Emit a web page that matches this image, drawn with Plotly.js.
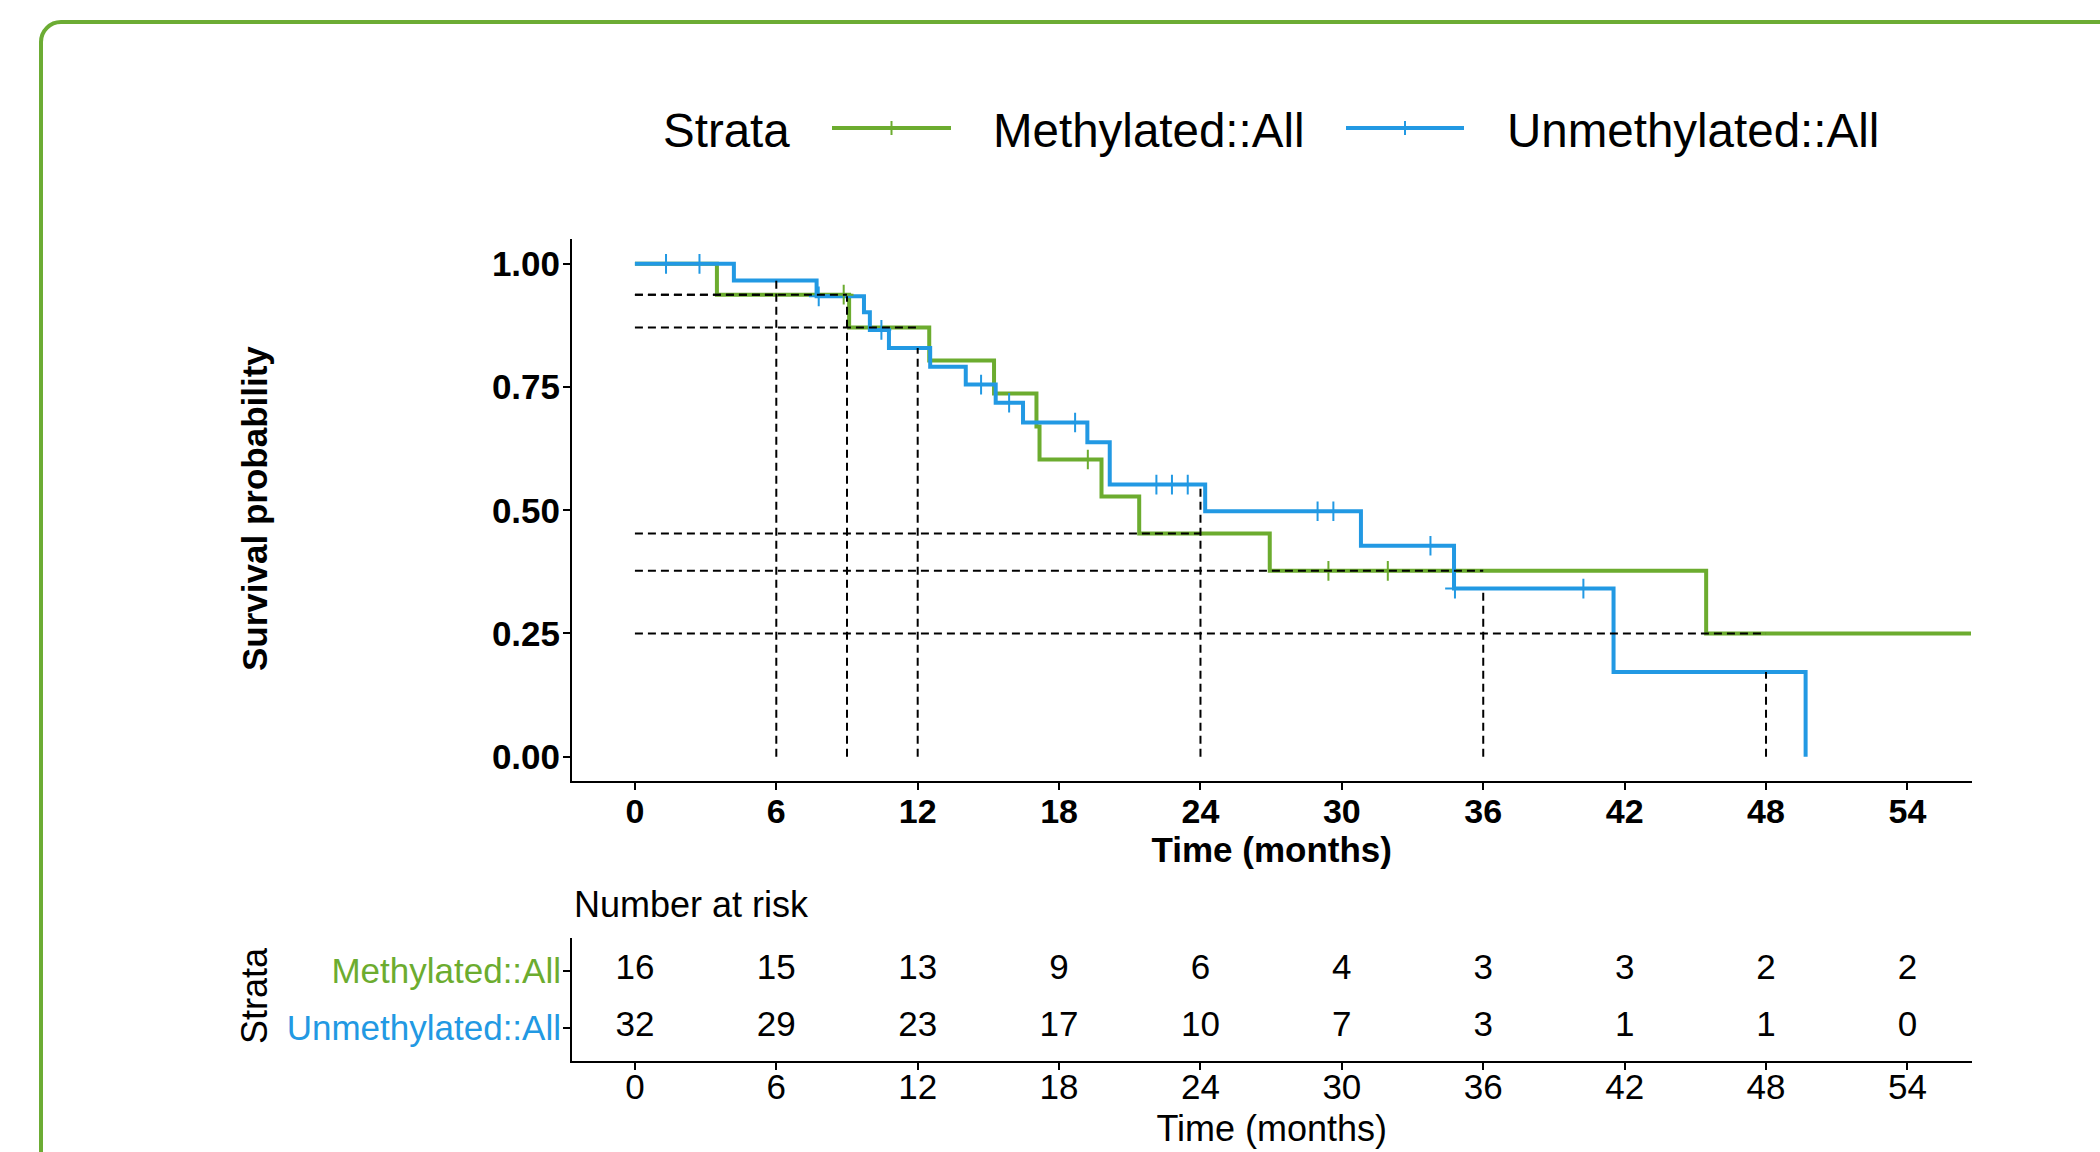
<!DOCTYPE html>
<html>
<head>
<meta charset="utf-8">
<script src="https://cdn.plot.ly/plotly-3.0.1.min.js"></script>
<style>
  html, body { margin: 0; padding: 0; background: #ffffff; }
  #wrap { position: relative; width: 2100px; height: 1152px; overflow: hidden; }
  #chart { position: absolute; left: 0; top: 0; width: 2100px; height: 1152px; }
  #frame { position: absolute; left: 39px; top: 20px; width: 2120px; height: 1220px;
           border: 4px solid #6cac34; border-radius: 22px; box-sizing: border-box; pointer-events: none; }
</style>
</head>
<body>
<div id="wrap">
  <div id="chart"></div>
  <div id="frame"></div>
</div>
<script>
// ---------------- data ----------------
const strataNames = ["Methylated::All", "Unmethylated::All"];
const strataColors = ["#6cac2f", "#2299e3"];

// Kaplan-Meier steps (time in months, survival after the step)
const methTime = [0, 3.48, 9.09, 12.49, 15.24, 17.04, 17.17, 19.8, 21.4, 26.94, 45.46, 56.7];
const methSurv = [1, 0.9375, 0.871, 0.804, 0.737, 0.670, 0.603, 0.528, 0.453, 0.377, 0.25, 0.25];
const methCensor = [8.86, 19.22, 29.43, 31.95];

const unTime = [0, 4.2, 7.71, 9.72, 9.97, 10.78, 12.53, 14.04, 15.31, 16.47, 19.2, 20.15, 24.2, 30.81, 34.76, 41.53, 49.68];
const unSurv = [1, 0.966, 0.934, 0.902, 0.866, 0.829, 0.791, 0.755, 0.718, 0.678, 0.638, 0.552, 0.498, 0.428, 0.341, 0.172, 0];
const unCensor = [1.32, 2.74, 7.8, 10.46, 14.69, 15.88, 18.68, 22.13, 22.79, 23.46, 28.97, 29.64, 33.76, 34.8, 40.25];

// landmark time points marked with dashed lines
const landmarkTimes = [6, 9, 12, 24, 36, 48];

// number at risk table
const riskTimes = [0, 6, 12, 18, 24, 30, 36, 42, 48, 54];
const riskMeth = [16, 15, 13, 9, 6, 4, 3, 3, 2, 2];
const riskUnmeth = [32, 29, 23, 17, 10, 7, 3, 1, 1, 0];

const yTickVals = [0, 0.25, 0.5, 0.75, 1];
const yTickText = ["0.00", "0.25", "0.50", "0.75", "1.00"];

// ---------------- helpers ----------------
function survAt(times, surv, t) {
  let v = surv[0];
  for (let i = 0; i < times.length; i++) { if (times[i] <= t) v = surv[i]; }
  return v;
}
const W = 2100, H = 1152;
const px = x => x / W;
const py = y => 1 - y / H;
const FONT = "Liberation Sans, Arial, Helvetica, sans-serif";

// ---------------- traces ----------------
const traces = [];
traces.push({
  x: methTime, y: methSurv, type: "scatter", mode: "lines", line: {shape: "hv", color: strataColors[0], width: 4},
  name: strataNames[0], showlegend: false, hoverinfo: "skip", xaxis: "x", yaxis: "y"
});
traces.push({
  x: unTime, y: unSurv, type: "scatter", mode: "lines", line: {shape: "hv", color: strataColors[1], width: 4},
  name: strataNames[1], showlegend: false, hoverinfo: "skip", xaxis: "x", yaxis: "y"
});
traces.push({
  x: methCensor, y: methCensor.map(t => survAt(methTime, methSurv, t)), type: "scatter", mode: "markers",
  marker: {symbol: "cross-thin", size: 14, line: {color: strataColors[0], width: 2}}, showlegend: false, hoverinfo: "skip"
});
traces.push({
  x: unCensor, y: unCensor.map(t => survAt(unTime, unSurv, t)), type: "scatter", mode: "markers",
  marker: {symbol: "cross-thin", size: 14, line: {color: strataColors[1], width: 2}}, showlegend: false, hoverinfo: "skip"
});

// dashed landmark lines
const vx = [], vy = [], hx = [], hy = [];
landmarkTimes.forEach(t => {
  vx.push(t, t, null); vy.push(0, survAt(unTime, unSurv, t), null);
  const g = survAt(methTime, methSurv, t);
  hx.push(0, t, null); hy.push(g, g, null);
});
traces.push({x: vx, y: vy, type: "scatter", mode: "lines", line: {color: "#000", width: 2, dash: "8px,5px"}, showlegend: false, hoverinfo: "skip", connectgaps: false});
traces.push({x: hx, y: hy, type: "scatter", mode: "lines", line: {color: "#000", width: 2, dash: "8px,5px"}, showlegend: false, hoverinfo: "skip", connectgaps: false});

// risk table
traces.push({
  x: riskTimes, y: riskTimes.map(() => 2), text: riskMeth.map(String), type: "scatter", mode: "text",
  textfont: {family: FONT, size: 35, color: "#000"}, xaxis: "x2", yaxis: "y2", showlegend: false, hoverinfo: "skip"
});
traces.push({
  x: riskTimes, y: riskTimes.map(() => 1), text: riskUnmeth.map(String), type: "scatter", mode: "text",
  textfont: {family: FONT, size: 35, color: "#000"}, xaxis: "x2", yaxis: "y2", showlegend: false, hoverinfo: "skip"
});

// ---------------- layout ----------------
const xDom = [px(572), px(1971.5)];
const shapes = [];
const annotations = [];

// manual legend
const legY = py(128);
const legendItems = [
  {x0: 832, x1: 951, color: strataColors[0], label: strataNames[0], lx: 991},
  {x0: 1346, x1: 1464, color: strataColors[1], label: strataNames[1], lx: 1505}
];
annotations.push({xref: "paper", yref: "paper", x: px(661), y: py(130), xanchor: "left", yanchor: "middle",
  text: "Strata", showarrow: false, font: {family: FONT, size: 47.5, color: "#000"}});
legendItems.forEach(it => {
  shapes.push({type: "line", xref: "paper", yref: "paper", x0: px(it.x0), x1: px(it.x1), y0: legY, y1: legY,
    line: {color: it.color, width: 4}});
  const cx = (it.x0 + it.x1) / 2;
  shapes.push({type: "line", xref: "paper", yref: "paper", x0: px(cx), x1: px(cx), y0: py(121), y1: py(135),
    line: {color: it.color, width: 2}});
  annotations.push({xref: "paper", yref: "paper", x: px(it.lx), y: py(130), xanchor: "left", yanchor: "middle",
    text: it.label, showarrow: false, font: {family: FONT, size: 47.5, color: "#000"}});
});

// titles placed by annotation
annotations.push({xref: "paper", yref: "paper", x: px(254), y: py(509), xanchor: "center", yanchor: "middle",
  text: "Survival probability", textangle: -90, showarrow: false, font: {family: FONT, size: 35, color: "#000", weight: "bold"}});
annotations.push({xref: "paper", yref: "paper", x: px(572), y: py(904), xanchor: "left", yanchor: "middle",
  text: "Number at risk", showarrow: false, font: {family: FONT, size: 36, color: "#000"}});
annotations.push({xref: "paper", yref: "paper", x: px(254), y: py(996), xanchor: "center", yanchor: "middle",
  text: "Strata", textangle: -90, showarrow: false, font: {family: FONT, size: 36, color: "#000"}});

const layout = {
  width: W, height: H,
  margin: {l: 0, r: 0, t: 0, b: 0, pad: 0},
  paper_bgcolor: "rgba(0,0,0,0)", plot_bgcolor: "rgba(0,0,0,0)",
  showlegend: false,
  font: {family: FONT, color: "#000"},
  xaxis: {
    domain: xDom, range: [-2.67, 56.72], tickvals: riskTimes, ticktext: riskTimes.map(String),
    showline: true, linecolor: "#000", linewidth: 2, ticks: "outside", ticklen: 7, tickwidth: 2, tickcolor: "#000",
    showgrid: false, zeroline: false, tickfont: {family: FONT, size: 34, weight: "bold"}, ticklabelstandoff: -8,
    title: {text: "Time (months)", font: {family: FONT, size: 35, weight: "bold"}, standoff: 2},
    anchor: "y", fixedrange: true
  },
  yaxis: {
    domain: [py(781.3), py(239.2)], range: [-0.05, 1.05], tickvals: yTickVals, ticktext: yTickText,
    showline: true, linecolor: "#000", linewidth: 2, ticks: "outside", ticklen: 7, tickwidth: 2, tickcolor: "#000",
    showgrid: false, zeroline: false, tickfont: {family: FONT, size: 35, weight: "bold"}, ticklabelstandoff: -4,
    anchor: "x", fixedrange: true
  },
  xaxis2: {
    domain: xDom, range: [-2.67, 56.72], tickvals: riskTimes, ticktext: riskTimes.map(String),
    showline: true, linecolor: "#000", linewidth: 2, ticks: "outside", ticklen: 7, tickwidth: 2, tickcolor: "#000",
    showgrid: false, zeroline: false, tickfont: {family: FONT, size: 35}, ticklabelstandoff: -13,
    title: {text: "Time (months)", font: {family: FONT, size: 36}, standoff: 11},
    anchor: "y2", fixedrange: true
  },
  yaxis2: {
    domain: [py(1060.7), py(937.5)], range: [0.42, 2.58], tickvals: [2, 1],
    ticktext: strataNames.map((n, i) => '<span style="color:' + strataColors[i] + '">' + n + '</span>'),
    showline: true, linecolor: "#000", linewidth: 2, ticks: "outside", ticklen: 7, tickwidth: 2, tickcolor: "#000",
    showgrid: false, zeroline: false, tickfont: {family: FONT, size: 35}, ticklabelstandoff: -5,
    anchor: "x2", fixedrange: true
  },
  shapes: shapes,
  annotations: annotations
};

Plotly.newPlot("chart", traces, layout, {staticPlot: true, displayModeBar: false});
</script>
</body>
</html>
